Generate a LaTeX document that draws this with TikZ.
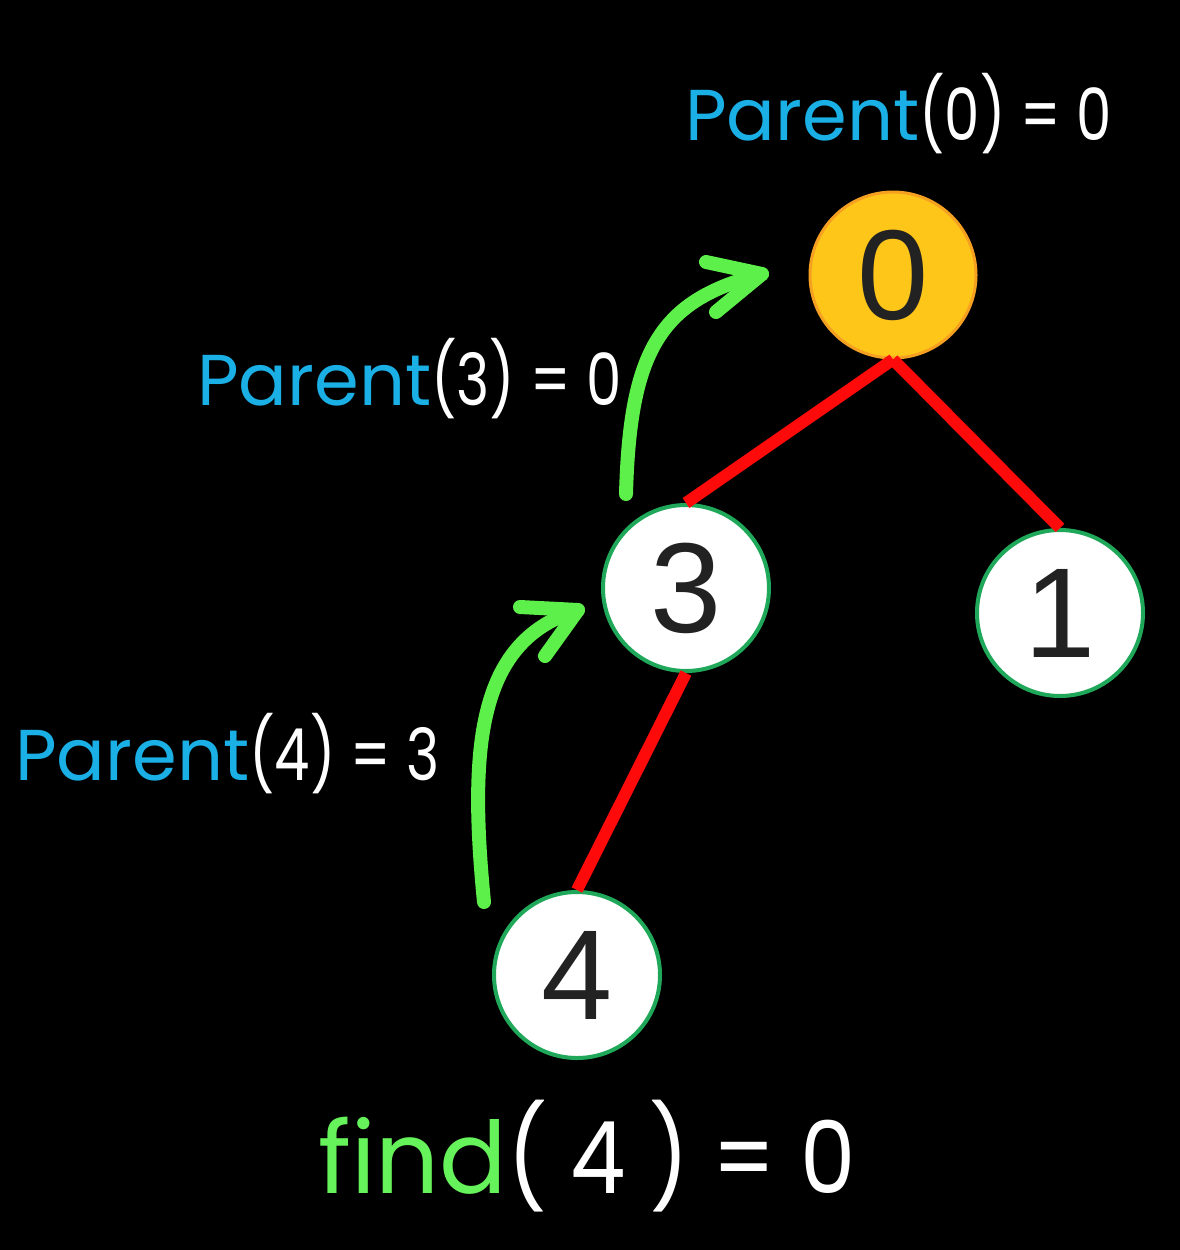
\documentclass[tikz,border=0pt]{standalone}
\usepackage{fontspec}
\setmainfont{Poppins}
\newfontfamily\digitfont{Liberation Sans}
\usetikzlibrary{arrows.meta}
\definecolor{bluetxt}{HTML}{1AB0E6}
\definecolor{greentxt}{HTML}{66F25A}
\definecolor{arrowgreen}{HTML}{5EF04A}
\definecolor{edgered}{HTML}{FF0A0A}
\definecolor{ringgreen}{HTML}{1FA85A}
\definecolor{rootfill}{HTML}{FFC61A}
\definecolor{rootring}{HTML}{F5A020}
\definecolor{digit}{HTML}{222222}
\newcommand{\narrow}[2]{\scalebox{#1}[1]{#2}}
\tikzset{
  vertex/.style={circle, draw=ringgreen, line width=4pt, fill=white, minimum size=166pt, inner sep=0pt,
     font=\digitfont\fontsize{128}{128}\selectfont, text=digit},
  rootvertex/.style={vertex, draw=rootring, fill=rootfill, line width=3pt},
  edge/.style={draw=edgered, line width=12pt},
  jump/.style={draw=arrowgreen, line width=14pt, line cap=round, line join=round},
  label/.style={anchor=base west, inner sep=0pt, text=white, font=\fontsize{72}{72}\selectfont},
}
\begin{document}
\begin{tikzpicture}[x=1pt,y=-1pt]
\fill[black] (0,0) rectangle (1180,1250);
\useasboundingbox (0,0) rectangle (1180,1250);
\node[rootvertex] (n0) at (893,275) {0};
\node[vertex] (n3) at (686,588) {3};
\node[vertex] (n1) at (1060,613) {1};
\node[vertex] (n4) at (577,975) {4};
% edges between node anchors
\draw[edge] (n0.south) -- (n3.north);
\draw[edge] (n0.south) -- (n1.north);
\draw[edge] (n3.south) -- (n4.north);
% arrows
\coordinate (a1s) at (484,902);
\coordinate (a1t) at (578,610);
\draw[jump] (a1s) .. controls (468,740) and (480,640) .. (a1t);
\draw[jump] (520,607) -- (a1t) -- (545,656);
\coordinate (a2s) at (626,494);
\coordinate (a2t) at (762,274);
\draw[jump] (a2s) .. controls (630,350) and (660,300) .. (a2t);
\draw[jump] (706,262) -- (a2t) -- (716,312);
% labels
\node[label] (p0) at (685,140) {\textcolor{bluetxt}{Parent}\narrow{0.78}{(0) = 0}};
\node[label] (p3) at (197,405) {\textcolor{bluetxt}{Parent}\narrow{0.78}{(3) = 0}};
\node[label] (p4) at (15,780) {\textcolor{bluetxt}{Parent}\narrow{0.78}{(4) = 3}};
\node[label, font=\fontsize{100}{100}\selectfont] (f) at (318,1193) {\textcolor{greentxt}{find}\narrow{0.88}{( 4 ) = 0}};
\end{tikzpicture}
\end{document}
